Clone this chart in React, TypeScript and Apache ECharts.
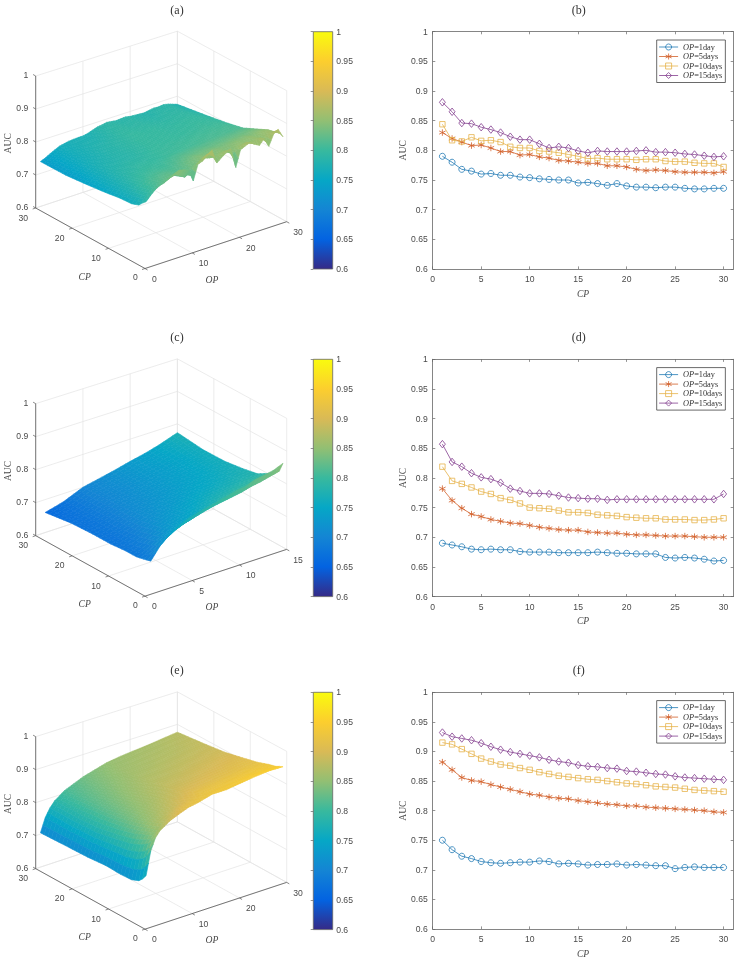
import React, { useEffect, useRef } from "react";
import * as echarts from "echarts";

const SERIF = "'Liberation Serif', serif";
const SANS = "'Liberation Sans', sans-serif";
const INK = "#4a4a4a";

const PANEL_LABELS = ["(a)", "(b)", "(c)", "(d)", "(e)", "(f)"];
const OP_NAMES = ["OP=1day", "OP=5days", "OP=10days", "OP=15days"];
const CP_VALUES = Array.from({ length: 30 }, (_, i) => i + 1);
const X_TICKS = [0, 5, 10, 15, 20, 25, 30];
const Z_TICKS = [0.6, 0.7, 0.8, 0.9, 1];

const B_OP1 = [0.79,0.78,0.768,0.765,0.76,0.761,0.758,0.758,0.755,0.754,0.752,0.751,0.75,0.75,0.745,0.746,0.744,0.741,0.744,0.74,0.738,0.738,0.737,0.738,0.738,0.736,0.735,0.735,0.736,0.736];
const B_OP5 = [0.83,0.82,0.814,0.808,0.809,0.804,0.798,0.798,0.792,0.793,0.789,0.787,0.783,0.782,0.78,0.778,0.778,0.774,0.774,0.772,0.768,0.766,0.767,0.766,0.764,0.763,0.763,0.763,0.762,0.764];
const B_OP10 = [0.844,0.817,0.815,0.822,0.816,0.817,0.814,0.806,0.804,0.804,0.799,0.798,0.796,0.793,0.79,0.786,0.787,0.785,0.785,0.785,0.784,0.785,0.785,0.782,0.781,0.781,0.779,0.778,0.778,0.772];
const B_OP15 = [0.881,0.865,0.846,0.845,0.839,0.835,0.83,0.823,0.818,0.818,0.811,0.804,0.806,0.804,0.799,0.796,0.799,0.798,0.798,0.798,0.799,0.8,0.797,0.797,0.796,0.794,0.793,0.791,0.789,0.79];

const D_OP1 = [0.69,0.687,0.684,0.68,0.679,0.68,0.679,0.679,0.676,0.675,0.675,0.675,0.674,0.674,0.674,0.674,0.675,0.674,0.673,0.673,0.672,0.672,0.672,0.666,0.665,0.666,0.665,0.663,0.66,0.661];
const D_OP5 = [0.782,0.762,0.749,0.739,0.735,0.73,0.727,0.724,0.723,0.72,0.717,0.715,0.713,0.712,0.712,0.709,0.708,0.707,0.707,0.705,0.704,0.704,0.703,0.702,0.702,0.702,0.701,0.7,0.7,0.7];
const D_OP10 = [0.819,0.795,0.79,0.784,0.777,0.773,0.766,0.763,0.757,0.75,0.749,0.748,0.745,0.742,0.742,0.741,0.738,0.737,0.736,0.734,0.733,0.732,0.732,0.73,0.73,0.73,0.729,0.729,0.73,0.732];
const D_OP15 = [0.857,0.827,0.819,0.808,0.801,0.798,0.792,0.782,0.778,0.774,0.774,0.773,0.77,0.767,0.766,0.765,0.765,0.763,0.764,0.764,0.764,0.764,0.764,0.764,0.764,0.764,0.764,0.764,0.764,0.773];

const F_OP1 = [0.75,0.734,0.723,0.719,0.714,0.712,0.711,0.712,0.713,0.713,0.715,0.714,0.71,0.711,0.71,0.708,0.709,0.709,0.71,0.708,0.709,0.708,0.707,0.707,0.702,0.704,0.705,0.704,0.704,0.704];
const F_OP5 = [0.882,0.869,0.856,0.851,0.849,0.844,0.84,0.836,0.832,0.828,0.826,0.823,0.821,0.82,0.817,0.815,0.813,0.811,0.81,0.808,0.808,0.806,0.805,0.804,0.803,0.802,0.801,0.8,0.798,0.797];
const F_OP10 = [0.915,0.912,0.904,0.896,0.888,0.883,0.878,0.876,0.872,0.869,0.865,0.862,0.859,0.857,0.855,0.853,0.852,0.85,0.848,0.846,0.845,0.843,0.841,0.84,0.839,0.837,0.835,0.834,0.833,0.832];
const F_OP15 = [0.932,0.925,0.922,0.919,0.914,0.908,0.903,0.899,0.896,0.893,0.89,0.886,0.883,0.881,0.877,0.875,0.874,0.872,0.871,0.867,0.866,0.864,0.862,0.861,0.858,0.856,0.855,0.854,0.853,0.852];

// Surfaces: one row per CP in SURF_CP, one column per OP.
const SURF_CP = [1, 2, 3, 5, 8, 12, 17, 23, 30];

const SURF_A_OP = Array.from({ length: 30 }, (_, i) => i + 1);
const SURF_A = [
  [.79,.805,.818,.826,.83,.84,.848,.853,.85,.844,.807,.853,.858,.87,.881,.838,.85,.86,.867,.806,.855,.862,.868,.858,.85,.866,.838,.87,.88,.853],
  [.78,.793,.805,.814,.82,.824,.83,.834,.825,.817,.826,.84,.85,.86,.865,.85,.85,.855,.856,.84,.85,.858,.862,.856,.858,.862,.85,.862,.868,.858],
  [.768,.782,.795,.806,.814,.82,.823,.826,.82,.815,.82,.83,.835,.842,.846,.842,.842,.846,.848,.84,.845,.85,.852,.85,.85,.855,.848,.855,.86,.855],
  [.76,.775,.79,.802,.809,.813,.816,.818,.818,.816,.818,.824,.83,.835,.839,.838,.838,.84,.842,.84,.84,.843,.845,.845,.846,.848,.845,.85,.852,.85],
  [.758,.77,.78,.79,.798,.802,.804,.806,.806,.806,.808,.812,.816,.82,.823,.823,.825,.826,.826,.826,.827,.828,.828,.83,.83,.832,.832,.834,.835,.834],
  [.751,.762,.772,.78,.787,.79,.793,.796,.797,.798,.798,.799,.801,.803,.804,.805,.806,.807,.808,.809,.81,.811,.811,.812,.812,.813,.813,.814,.814,.813],
  [.744,.755,.763,.772,.778,.781,.783,.785,.786,.787,.79,.793,.795,.798,.799,.799,.799,.8,.8,.8,.8,.801,.802,.802,.803,.804,.803,.804,.803,.8],
  [.737,.747,.755,.762,.767,.771,.775,.78,.783,.785,.788,.79,.793,.796,.797,.797,.796,.796,.796,.795,.794,.794,.794,.795,.795,.796,.796,.795,.792,.788],
  [.736,.742,.75,.757,.764,.767,.77,.771,.772,.772,.775,.78,.785,.787,.79,.788,.786,.787,.788,.785,.784,.783,.782,.785,.787,.786,.788,.785,.78,.775],
];

const SURF_C_OP = Array.from({ length: 15 }, (_, i) => i + 1);
const SURF_C = [
  [.69,.727,.752,.77,.782,.79,.797,.804,.811,.819,.822,.834,.839,.845,.857],
  [.687,.71,.733,.75,.762,.77,.778,.785,.79,.795,.8,.808,.813,.82,.827],
  [.684,.7,.722,.738,.749,.757,.768,.776,.783,.79,.795,.802,.807,.813,.819],
  [.679,.69,.708,.723,.735,.743,.752,.761,.77,.777,.782,.787,.791,.796,.801],
  [.679,.685,.698,.712,.724,.732,.74,.748,.756,.763,.767,.771,.775,.779,.782],
  [.675,.68,.69,.703,.715,.722,.729,.735,.742,.748,.752,.757,.762,.768,.773],
  [.675,.678,.686,.697,.708,.714,.72,.726,.732,.738,.743,.748,.753,.76,.765],
  [.672,.675,.682,.692,.703,.708,.714,.72,.726,.732,.737,.743,.749,.757,.764],
  [.661,.668,.676,.688,.7,.706,.712,.718,.725,.732,.738,.745,.753,.763,.773],
];

const SURF_E_OP = [1, 2, 3, 4, 5, 6, 8, 10, 12, 15, 18, 21, 24, 27, 30];
const SURF_E = [
  [.75,.82,.855,.873,.882,.892,.904,.915,.92,.932,.932,.938,.944,.948,.947],
  [.734,.8,.84,.86,.869,.882,.898,.912,.918,.925,.93,.935,.94,.942,.942],
  [.723,.785,.825,.846,.856,.872,.89,.904,.912,.922,.926,.93,.934,.936,.936],
  [.714,.77,.81,.835,.849,.862,.877,.888,.9,.914,.918,.922,.925,.928,.93],
  [.712,.76,.795,.82,.836,.848,.863,.876,.887,.899,.904,.908,.912,.915,.918],
  [.714,.755,.785,.807,.823,.835,.85,.862,.873,.886,.891,.896,.9,.904,.907],
  [.709,.748,.773,.795,.813,.825,.84,.852,.862,.874,.879,.884,.888,.892,.894],
  [.707,.745,.77,.788,.805,.817,.83,.841,.85,.862,.867,.872,.876,.88,.885],
  [.704,.745,.77,.787,.797,.808,.82,.832,.84,.852,.858,.862,.866,.871,.876],
];

const PARULA = ["#352A87","#0363E1","#1485D4","#06A7C6","#38B99E","#92BF73","#D9BA56","#FCCE2E","#F9FB0E"];

const LINE_COLORS = ["#1f78b4", "#d2602a", "#e6b34a", "#84408f"];
const ASTERISK = "path://M0,-5L0,5M-4.33,-2.5L4.33,2.5M-4.33,2.5L4.33,-2.5";
const MARKERS: any[] = [
  { symbol: "circle", size: 6 },
  { symbol: ASTERISK, size: 6.5 },
  { symbol: "rect", size: 5.4 },
  { symbol: "diamond", size: [6, 7.5] },
];

const ROW_TOPS_3D = [0, 327.67, 660.67];
const ROW_TOPS_2D = [31.7, 359.3, 692.3];

// 3-D box geometry, in px of a hidden 1px-per-unit grid whose origin is (30, 282+dy)
const FRONT = [115, 13.5];
const OP_VEC = [141.7, 46.8];
const CP_VEC = [-109.3, 60.5];
function project(opF: number, cpF: number, auc: number) {
  const zF = (auc - 0.6) / 0.4;
  const h = 133 - cpF - 2 * opF;
  return [
    FRONT[0] + OP_VEC[0] * opF + CP_VEC[0] * cpF,
    FRONT[1] + OP_VEC[1] * opF + CP_VEC[1] * cpF + h * zF,
  ];
}

function hexRgb(h: string) {
  return [1, 3, 5].map((i) => parseInt(h.slice(i, i + 2), 16));
}
const PARULA_RGB = PARULA.map(hexRgb);
function colorOf(v: number) {
  const t = Math.max(0, Math.min(0.99999, (v - 0.6) / 0.4)) * (PARULA.length - 1);
  const i = Math.floor(t);
  const f = t - i;
  const a = PARULA_RGB[i];
  const b = PARULA_RGB[i + 1];
  return `rgb(${a.map((x, k) => Math.round(x + (b[k] - x) * f)).join(",")})`;
}

function frameSeries(idx: number, opMax: number, opTicks: number[], opLabels: string[]) {
  const cpTicks = [0, 10, 20, 30];
  return {
    type: "custom",
    coordinateSystem: "cartesian2d",
    xAxisIndex: idx,
    yAxisIndex: idx,
    silent: true,
    clip: false,
    z: 2,
    data: [[0, 0]],
    renderItem: (_: any, api: any) => {
      const P = (o: number, c: number, z: number) => api.coord(project(o, c, z));
      const kids: any[] = [];
      const line = (a: number[], b: number[], stroke: string, w: number) =>
        kids.push({ type: "line", silent: true, shape: { x1: a[0], y1: a[1], x2: b[0], y2: b[1] }, style: { stroke, lineWidth: w } });
      const text = (s: string, p: number[], o: any = {}) =>
        kids.push({
          type: "text",
          silent: true,
          x: p[0],
          y: p[1],
          rotation: o.rotation || 0,
          style: {
            text: s,
            fill: INK,
            fontFamily: o.family || SANS,
            fontSize: o.size || 8.6,
            fontStyle: o.italic ? "italic" : "normal",
            textAlign: o.align || "center",
            textVerticalAlign: "middle",
          },
        });
      const GRID = "#e4e4e4";
      // Back walls and floor
      Z_TICKS.forEach((z) => {
        line(P(0, 1, z), P(1, 1, z), GRID, 0.7);
        line(P(1, 1, z), P(1, 0, z), GRID, 0.7);
      });
      opTicks.forEach((t) => {
        const f = t / opMax;
        line(P(f, 0, 0.6), P(f, 1, 0.6), GRID, 0.7);
        line(P(f, 1, 0.6), P(f, 1, 1), GRID, 0.7);
      });
      cpTicks.forEach((t) => {
        const f = t / 30;
        line(P(0, f, 0.6), P(1, f, 0.6), GRID, 0.7);
        line(P(1, f, 0.6), P(1, f, 1), GRID, 0.7);
      });
      // Dark axes
      line(P(0, 1, 0.6), P(0, 1, 1), "#555", 0.8);
      line(P(0, 0, 0.6), P(0, 1, 0.6), "#555", 0.8);
      line(P(0, 0, 0.6), P(1, 0, 0.6), "#555", 0.8);
      Z_TICKS.forEach((z) => {
        const p = P(0, 1, z);
        line(p, [p[0] - 2.6, p[1] - 1.5], "#555", 0.7);
        text(String(z), [28.3, p[1] - 1], { align: "right" });
      });
      cpTicks.forEach((t) => {
        const p = P(0, t / 30, 0.6);
        line(p, [p[0] - 3, p[1] + 1], "#555", 0.7);
        const s = String(t);
        text(s, [p[0] + (s.length === 1 ? -9.7 : -12.5), p[1] + (s.length === 1 ? 8.5 : 9.5)]);
      });
      opTicks.forEach((t, i) => {
        const p = P(t / opMax, 0, 0.6);
        line(p, [p[0] + 2.6, p[1] + 1.5], "#555", 0.7);
        const s = opLabels[i];
        text(s, [p[0] + (s.length === 1 ? 9.3 : 11.3), p[1] + (s.length === 1 ? 10 : 10.5)]);
      });
      // Axis names, relative to hidden grid
      const origin = api.coord([0, 0]);
      const top = origin[1] - 282;
      text("CP", [84.7, top + 276], { family: SERIF, size: 9.6, italic: true });
      text("OP", [212, top + 279.3], { family: SERIF, size: 9.6, italic: true });
      text("AUC", [7.3, top + 143.3], { family: SERIF, size: 9.6, rotation: Math.PI / 2 });
      return { type: "group", children: kids };
    },
  };
}

function surfaceSeries(idx: number, opMax: number, opVals: number[], table: number[][], opSub: number) {
  const data: number[][] = [];
  for (let r = SURF_CP.length - 2; r >= 0; r--) {
    for (let c = opVals.length - 2; c >= 0; c--) data.push([r, c]);
  }
  return {
    type: "custom",
    coordinateSystem: "cartesian2d",
    xAxisIndex: idx,
    yAxisIndex: idx,
    silent: true,
    clip: false,
    z: 3,
    data,
    renderItem: (_: any, api: any) => {
      const r = api.value(0);
      const c = api.value(1);
      const cp0 = SURF_CP[r];
      const cp1 = SURF_CP[r + 1];
      const op0 = opVals[c];
      const op1 = opVals[c + 1];
      const nCp = Math.max(1, Math.round(cp1 - cp0));
      const nOp = Math.max(1, Math.round((op1 - op0) * opSub));
      const val = (u: number, w: number) =>
        (table[r][c] * (1 - u) + table[r][c + 1] * u) * (1 - w) + (table[r + 1][c] * (1 - u) + table[r + 1][c + 1] * u) * w;
      const pt = (u: number, w: number) =>
        api.coord(project((op0 + (op1 - op0) * u) / opMax, (cp0 + (cp1 - cp0) * w) / 30, val(u, w)));
      const kids: any[] = [];
      for (let j = nCp - 1; j >= 0; j--) {
        for (let i = nOp - 1; i >= 0; i--) {
          const u0 = i / nOp, u1 = (i + 1) / nOp, w0 = j / nCp, w1 = (j + 1) / nCp;
          const fill = colorOf(val((u0 + u1) / 2, (w0 + w1) / 2));
          kids.push({
            type: "polygon",
            silent: true,
            shape: { points: [pt(u0, w0), pt(u1, w0), pt(u1, w1), pt(u0, w1)] },
            style: { fill, stroke: fill, lineWidth: 0.6 },
          });
        }
      }
      return { type: "group", children: kids };
    },
  };
}

function colorbarSeries(axisIdx: number) {
  return {
    type: "custom",
    coordinateSystem: "cartesian2d",
    xAxisIndex: axisIdx,
    yAxisIndex: axisIdx,
    silent: true,
    z: 2,
    data: [[0, 0.6, 1, 1]],
    renderItem: (_: any, api: any) => {
      const a = api.coord([0, 1]);
      const b = api.coord([1, 0.6]);
      return {
        type: "rect",
        silent: true,
        shape: { x: a[0], y: a[1], width: b[0] - a[0], height: b[1] - a[1] },
        style: {
          fill: new echarts.graphic.LinearGradient(0, 1, 0, 0, PARULA.map((color, i) => ({ offset: i / (PARULA.length - 1), color }))),
          stroke: "#666",
          lineWidth: 0.8,
        },
      };
    },
  };
}

function buildOption() {
  const grid: any[] = [];
  const xAxis: any[] = [];
  const yAxis: any[] = [];
  const series: any[] = [];
  const legend: any[] = [];
  const title = PANEL_LABELS.map((t, i) => ({
    text: t,
    left: i % 2 === 0 ? 177 : 578.7,
    top: [3.5, 331, 663.5][Math.floor(i / 2)],
    textAlign: "center",
    padding: 0,
    textStyle: { fontFamily: SERIF, fontSize: 12, fontWeight: "normal", color: "#333" },
  }));

  // Hidden 1px-per-unit grids for the 3-D panels: indices 0, 1, 2
  ROW_TOPS_3D.forEach((dy, k) => {
    grid.push({ left: 30, top: 20 + dy, width: 262, height: 262 });
    xAxis.push({ gridIndex: k, type: "value", min: 0, max: 262, show: false });
    yAxis.push({ gridIndex: k, type: "value", min: 0, max: 262, show: false });
  });
  series.push(frameSeries(0, 30, [0, 10, 20, 30], ["0", "10", "20", "30"]));
  series.push(surfaceSeries(0, 30, SURF_A_OP, SURF_A, 2));
  series.push(frameSeries(1, 15, [0, 5, 10, 15], ["0", "5", "10", "15"]));
  series.push(surfaceSeries(1, 15, SURF_C_OP, SURF_C, 2));
  series.push(frameSeries(2, 30, [0, 10, 20, 30], ["0", "10", "20", "30"]));
  series.push(surfaceSeries(2, 30, SURF_E_OP, SURF_E, 2));

  const yFmt = (v: number) => String(+v.toFixed(2));

  // Colorbars: indices 3, 4, 5
  ROW_TOPS_2D.forEach((top) => {
    const k = grid.length;
    grid.push({ left: 313.3, top, width: 19.4, height: 237.3 });
    xAxis.push({ gridIndex: k, type: "value", min: 0, max: 1, show: false });
    yAxis.push({
      gridIndex: k,
      type: "value",
      position: "right",
      min: 0.6,
      max: 1,
      interval: 0.05,
      splitLine: { show: false },
      axisLine: { show: false },
      axisTick: { show: true, inside: true, length: 2.6, lineStyle: { color: "#666", width: 0.7 } },
      axisLabel: { show: true, margin: 3.5, fontFamily: SANS, fontSize: 8.6, color: INK, formatter: yFmt },
      z: 5,
    });
    series.push(colorbarSeries(k));
  });

  // Line charts
  const panels = [
    [B_OP1, B_OP5, B_OP10, B_OP15],
    [D_OP1, D_OP5, D_OP10, D_OP15],
    [F_OP1, F_OP5, F_OP10, F_OP15],
  ];
  panels.forEach((rows, p) => {
    const top = ROW_TOPS_2D[p];
    const g = grid.length;
    grid.push({ left: 432.7, top, width: 300.6, height: 237.3 });
    const axisLine = { show: true, onZero: false, lineStyle: { color: "#666", width: 0.8 } };
    const axisTick = { show: true, inside: true, length: 2.6, lineStyle: { color: "#666", width: 0.7 }, customValues: X_TICKS };
    const x0 = xAxis.length;
    xAxis.push({
      gridIndex: g, type: "value", min: 0, max: 31, position: "bottom", splitLine: { show: false },
      axisLine, axisTick,
      axisLabel: { margin: 5.5, fontFamily: SANS, fontSize: 8.6, color: INK, customValues: X_TICKS },
      name: "CP", nameLocation: "middle", nameGap: 19,
      nameTextStyle: { fontFamily: SERIF, fontStyle: "italic", fontSize: 9.6, color: INK },
    });
    xAxis.push({
      gridIndex: g, type: "value", min: 0, max: 31, position: "top", splitLine: { show: false },
      axisLine, axisTick, axisLabel: { show: false },
    });
    const y0 = yAxis.length;
    const yTick = { show: true, inside: true, length: 2.6, lineStyle: { color: "#666", width: 0.7 } };
    yAxis.push({
      gridIndex: g, type: "value", min: 0.6, max: 1, interval: 0.05, position: "left", splitLine: { show: false },
      axisLine, axisTick: yTick,
      axisLabel: { margin: 5, fontFamily: SANS, fontSize: 8.6, color: INK, formatter: yFmt },
      name: "AUC", nameLocation: "middle", nameGap: 25, nameRotate: 90,
      nameTextStyle: { fontFamily: SERIF, fontSize: 9.6, color: INK },
    });
    yAxis.push({
      gridIndex: g, type: "value", min: 0.6, max: 1, interval: 0.05, position: "right", splitLine: { show: false },
      axisLine, axisTick: yTick, axisLabel: { show: false },
    });
    rows.forEach((vals, i) => {
      series.push({
        type: "line",
        name: OP_NAMES[i],
        xAxisIndex: x0,
        yAxisIndex: y0,
        data: vals.map((v, k) => [CP_VALUES[k], v]),
        symbol: MARKERS[i].symbol,
        symbolSize: MARKERS[i].size,
        showAllSymbol: true,
        z: 4 + i,
        lineStyle: { color: LINE_COLORS[i], width: 0.8 },
        itemStyle: { color: "rgba(255,255,255,0)", borderColor: LINE_COLORS[i], borderWidth: 0.8 },
        emphasis: { disabled: true },
      });
    });
    legend.push({
      data: OP_NAMES,
      orient: "vertical",
      left: 656.7,
      top: top + 8.3,
      padding: [3, 3, 3, 2],
      itemWidth: 19,
      itemHeight: 7.5,
      itemGap: 1.5,
      borderColor: "#444",
      borderWidth: 0.8,
      backgroundColor: "#fff",
      selectedMode: false,
      itemStyle: { borderWidth: 0.8 },
      lineStyle: { width: 0.8 },
      formatter: (n: string) => `{i|OP}{n|${n.slice(2)}}`,
      textStyle: {
        rich: {
          i: { fontFamily: SERIF, fontStyle: "italic", fontSize: 8.3, color: "#333" },
          n: { fontFamily: SERIF, fontSize: 8.3, color: "#333" },
        },
      },
    });
  });

  return { animation: false, backgroundColor: "#fff", title, grid, xAxis, yAxis, series, legend, tooltip: { show: false } };
}

export default function App() {
  const ref = useRef<HTMLDivElement>(null);
  useEffect(() => {
    const chart = echarts.init(ref.current!, undefined, { renderer: "svg" });
    chart.setOption(buildOption() as any);
    return () => chart.dispose();
  }, []);
  return <div ref={ref} style={{ position: "absolute", left: 0, top: 0, width: 737, height: 959, filter: "blur(0.35px)" }} />;
}
